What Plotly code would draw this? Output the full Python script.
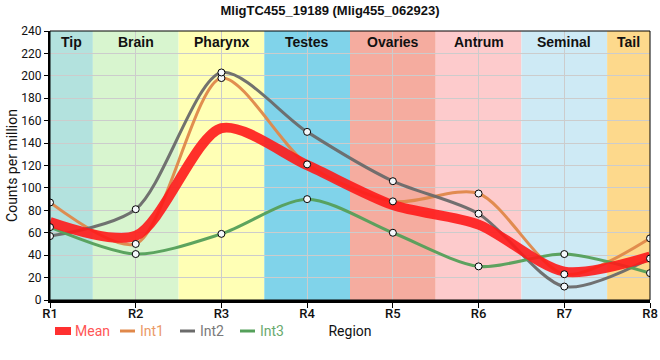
import plotly.graph_objects as go

regions = ["R1", "R2", "R3", "R4", "R5", "R6", "R7", "R8"]
int1 = [87, 50, 198, 121, 88, 95, 23, 55]
int2 = [57, 81, 203, 150, 106, 77, 12, 37]
int3 = [65, 41, 59, 90, 60, 30, 41, 24]
mean = [69.7, 57.3, 153.3, 120.3, 84.7, 67.3, 25.3, 38.7]

band_names = ["Tip", "Brain", "Pharynx", "Testes", "Ovaries", "Antrum", "Seminal", "Tail"]
band_start = [0, 0.5, 1.5, 2.5, 3.5, 4.5, 5.5, 6.5]
band_end = [0.5, 1.5, 2.5, 3.5, 4.5, 5.5, 6.5, 7]
band_colors = ["#b3e2de", "#d8f5cf", "#ffffb5", "#80d3ea", "#f5ac9f", "#fdcbcc", "#ceeaf5", "#fdd98c"]

series_names = ["Mean", "Int1", "Int2", "Int3"]
line_colors = {"Mean": "#ff1a1a", "Int1": "#e0884a", "Int2": "#6b6b6b", "Int3": "#55a05a"}
legend_text_colors = {"Mean": "#ff5555", "Int1": "#eb9a66", "Int2": "#7a7a7a", "Int3": "#6aaa6e"}

W, H = 660, 360
ML, MR, MT, MB = 50, 10, 31, 60
PW, PH = W - ML - MR, H - MT - MB


def px_x(px):
    return (px - ML) / PW


def px_y(py):
    return (H - MB - py) / PH


fig = go.Figure()

int_series = [("Int1", int1), ("Int2", int2), ("Int3", int3)]
for name, vals in int_series:
    fig.add_trace(go.Scatter(
        x=regions, y=vals, mode="lines", name=name, showlegend=False,
        line=dict(color=line_colors[name], width=3, shape="spline", smoothing=0.8),
        opacity=0.95,
    ))

fig.add_trace(go.Scatter(
    x=regions, y=mean, mode="lines", name="Mean", showlegend=False,
    line=dict(color=line_colors["Mean"], width=10, shape="spline", smoothing=0.8),
    opacity=0.9,
))

for name, vals in int_series:
    fig.add_trace(go.Scatter(
        x=regions, y=vals, mode="markers", showlegend=False, name=name,
        marker=dict(size=7, color="#f4f8fb", line=dict(color="black", width=1)),
    ))

shapes = []
for x0, x1, c in zip(band_start, band_end, band_colors):
    shapes.append(dict(type="rect", xref="x", yref="paper", x0=x0, x1=x1, y0=0, y1=1,
                       fillcolor=c, line=dict(width=0), layer="below"))
shapes.append(dict(type="rect", xref="paper", yref="paper", x0=0, x1=1, y0=0, y1=1,
                   line=dict(color="black", width=1), layer="above"))

annotations = []
for x0, x1, n in zip(band_start, band_end, band_names):
    annotations.append(dict(x=(x0 + x1) / 2, y=0.96, xref="x", yref="paper", text=f"<b>{n}</b>",
                            showarrow=False, font=dict(family="Liberation Sans", size=14, color="#111"),
                            yanchor="middle"))

# legend (swatch + coloured label), laid out along the bottom
leg_starts = [55, 120, 180, 240]
leg_y = 331
for name, sx in zip(series_names, leg_starts):
    if name == "Mean":
        shapes.append(dict(type="rect", xref="paper", yref="paper",
                           x0=px_x(sx), x1=px_x(sx + 16), y0=px_y(leg_y + 4), y1=px_y(leg_y - 4),
                           fillcolor=line_colors[name], line=dict(width=0), opacity=0.9))
    else:
        shapes.append(dict(type="line", xref="paper", yref="paper",
                           x0=px_x(sx), x1=px_x(sx + 15), y0=px_y(leg_y), y1=px_y(leg_y),
                           line=dict(color=line_colors[name], width=3)))
    annotations.append(dict(x=px_x(sx + 18), y=px_y(leg_y), xref="paper", yref="paper",
                            text=name, showarrow=False, xanchor="left", yanchor="middle",
                            font=dict(family="Roboto", size=14, color=legend_text_colors[name])))

fig.update_layout(
    width=W, height=H,
    margin=dict(l=ML, r=MR, t=MT, b=MB),
    paper_bgcolor="white", plot_bgcolor="white",
    title=dict(text="<b>MligTC455_19189 (Mlig455_062923)</b>", x=0.5, xanchor="center",
               y=0.972, yanchor="middle", font=dict(family="Liberation Sans", size=13, color="#111")),
    shapes=shapes, annotations=annotations,
    showlegend=False,
    font=dict(family="Roboto", color="#111"),
)

fig.update_xaxes(
    type="category", range=[0, 7], showgrid=True, gridcolor="#cccccc", gridwidth=1,
    showline=True, linecolor="black", linewidth=3, ticks="outside", ticklen=5, tickcolor="black",
    tickfont=dict(family="Roboto", size=13, color="#111", weight=500), automargin=False,
    ticklabelstandoff=-6,
    title=dict(text="Region", font=dict(family="Roboto", size=14, color="#111"), standoff=7),
    zeroline=False,
)
fig.update_yaxes(
    range=[0, 240], dtick=20, showgrid=True, gridcolor="#cccccc", gridwidth=1,
    showline=True, linecolor="black", linewidth=2, ticks="outside", ticklen=4, tickcolor="black",
    tickfont=dict(family="Roboto", size=12, color="#111"), automargin=False,
    title=dict(text="Counts per million", font=dict(family="Roboto", size=14, color="#111"), standoff=0),
    zeroline=False,
)

fig.write_html("out.html", config={"displayModeBar": False},
               post_script="document.body.style.margin='0';")
